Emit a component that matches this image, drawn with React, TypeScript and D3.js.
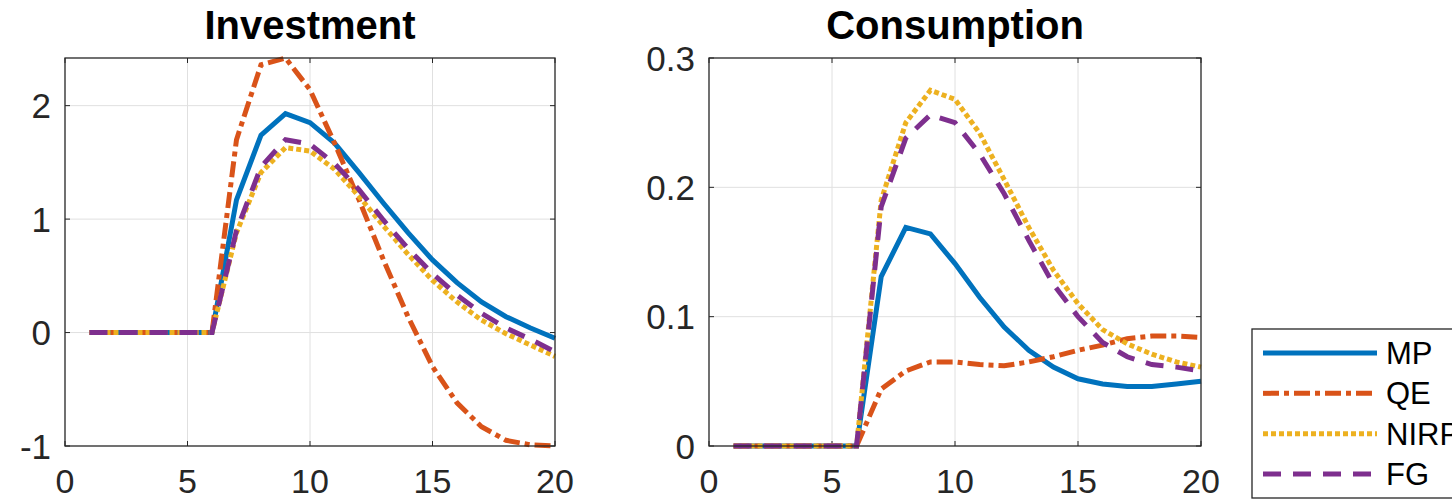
import React, { useRef, useEffect } from 'react';
import * as d3 from 'd3';

// horizon (quarters)
const periods = [1, 2, 3, 4, 5, 6, 7, 8, 9, 10, 11, 12, 13, 14, 15, 16, 17, 18, 19, 20];

// Investment responses
const invMP = [0, 0, 0, 0, 0, 0, 1.17, 1.74, 1.93, 1.85, 1.67, 1.41, 1.14, 0.88, 0.64, 0.44, 0.27, 0.14, 0.04, -0.05];
const invQE = [0, 0, 0, 0, 0, 0, 1.7, 2.36, 2.42, 2.14, 1.67, 1.17, 0.64, 0.14, -0.3, -0.62, -0.83, -0.95, -0.99, -1.0];
const invNIRP = [0, 0, 0, 0, 0, 0, 0.88, 1.41, 1.63, 1.6, 1.44, 1.2, 0.94, 0.69, 0.46, 0.27, 0.11, -0.01, -0.11, -0.21];
const invFG = [0, 0, 0, 0, 0, 0, 0.9, 1.46, 1.7, 1.66, 1.49, 1.26, 0.99, 0.74, 0.52, 0.33, 0.17, 0.04, -0.06, -0.17];

// Consumption responses
const conMP = [0, 0, 0, 0, 0, 0, 0.131, 0.169, 0.164, 0.141, 0.115, 0.092, 0.074, 0.061, 0.052, 0.048, 0.046, 0.046, 0.048, 0.05];
const conQE = [0, 0, 0, 0, 0, 0, 0.044, 0.058, 0.065, 0.065, 0.063, 0.062, 0.065, 0.069, 0.074, 0.078, 0.083, 0.085, 0.085, 0.084];
const conNIRP = [0, 0, 0, 0, 0, 0, 0.19, 0.25, 0.275, 0.268, 0.242, 0.206, 0.169, 0.136, 0.11, 0.09, 0.079, 0.071, 0.065, 0.061];
const conFG = [0, 0, 0, 0, 0, 0, 0.185, 0.238, 0.256, 0.25, 0.226, 0.195, 0.159, 0.125, 0.1, 0.08, 0.069, 0.063, 0.061, 0.058];

const seriesNames = ['MP', 'QE', 'NIRP', 'FG'];
const xTicks = [0, 5, 10, 15, 20];
const invTicks = [-1, 0, 1, 2];
const invTickLabels = ['-1', '0', '1', '2'];
const conTicks = [0, 0.1, 0.2, 0.3];
const conTickLabels = ['0', '0.1', '0.2', '0.3'];

const colors = ['#0072BD', '#D95319', '#EDB120', '#7E2F8E'];
const dashes = ['none', '16 5 5 5', '5 3', '18 12'];
const axisColor = '#262626';
const font = '"Liberation Sans", Arial, sans-serif';

const App = () => {
    const svgRef = useRef<SVGSVGElement>(null);

    useEffect(() => {
        const svg = d3.select(svgRef.current);
        svg.selectAll('*').remove();

        const panels = [
            { title: 'Investment', left: 65, right: 555, yDomain: [-1, 2.42], ticks: invTicks, labels: invTickLabels, data: [invMP, invQE, invNIRP, invFG] },
            { title: 'Consumption', left: 709, right: 1201, yDomain: [0, 0.3], ticks: conTicks, labels: conTickLabels, data: [conMP, conQE, conNIRP, conFG] },
        ];
        const top = 58, bottom = 446;

        panels.forEach(p => {
            const x = d3.scaleLinear().domain([0, 20]).range([p.left, p.right]);
            const y = d3.scaleLinear().domain(p.yDomain).range([bottom, top]);
            const g = svg.append('g');

            // grid
            g.selectAll('.gx').data(xTicks.slice(1, -1)).join('line')
                .attr('x1', d => x(d)).attr('x2', d => x(d))
                .attr('y1', top).attr('y2', bottom)
                .attr('stroke', '#e0e0e0').attr('stroke-width', 1);
            g.selectAll('.gy').data(p.ticks.filter(t => y(t) > top + 1 && y(t) < bottom - 1)).join('line')
                .attr('x1', p.left).attr('x2', p.right)
                .attr('y1', d => y(d)).attr('y2', d => y(d))
                .attr('stroke', '#e0e0e0').attr('stroke-width', 1);

            // inward ticks on all sides
            const tl = 5;
            xTicks.forEach(t => {
                g.append('line').attr('x1', x(t)).attr('x2', x(t)).attr('y1', bottom).attr('y2', bottom - tl).attr('stroke', axisColor);
                g.append('line').attr('x1', x(t)).attr('x2', x(t)).attr('y1', top).attr('y2', top + tl).attr('stroke', axisColor);
            });
            p.ticks.forEach(t => {
                g.append('line').attr('x1', p.left).attr('x2', p.left + tl).attr('y1', y(t)).attr('y2', y(t)).attr('stroke', axisColor);
                g.append('line').attr('x1', p.right).attr('x2', p.right - tl).attr('y1', y(t)).attr('y2', y(t)).attr('stroke', axisColor);
            });

            // lines
            const line = d3.line<number>()
                .x((_, i) => x(periods[i]))
                .y(d => y(d));
            p.data.forEach((vals, i) => {
                g.append('path')
                    .datum(vals)
                    .attr('d', line)
                    .attr('fill', 'none')
                    .attr('stroke', colors[i])
                    .attr('stroke-width', 5)
                    .attr('stroke-dasharray', dashes[i]);
            });

            // box
            g.append('rect')
                .attr('x', p.left).attr('y', top)
                .attr('width', p.right - p.left).attr('height', bottom - top)
                .attr('fill', 'none').attr('stroke', axisColor).attr('stroke-width', 1.3);

            // tick labels
            g.selectAll('.xl').data(xTicks).join('text')
                .attr('x', d => x(d)).attr('y', 493)
                .attr('text-anchor', 'middle')
                .attr('font-family', font).attr('font-size', 34)
                .attr('fill', axisColor)
                .text(d => d);
            g.selectAll('.yl').data(p.ticks).join('text')
                .attr('x', p.left - 14).attr('y', d => y(d))
                .attr('dy', '0.36em')
                .attr('text-anchor', 'end')
                .attr('font-family', font).attr('font-size', 35)
                .attr('fill', axisColor)
                .text((_, i) => p.labels[i]);

            // title
            g.append('text')
                .attr('x', (p.left + p.right) / 2).attr('y', 39)
                .attr('text-anchor', 'middle')
                .attr('font-family', font).attr('font-size', 40).attr('font-weight', 'bold')
                .attr('fill', '#000')
                .text(p.title);
        });

        // legend
        const lg = svg.append('g');
        lg.append('rect')
            .attr('x', 1252).attr('y', 329).attr('width', 240).attr('height', 169)
            .attr('fill', '#fff').attr('stroke', axisColor).attr('stroke-width', 1.3);
        const ly = d3.scalePoint<string>().domain(seriesNames).range([353, 474]);
        seriesNames.forEach((name, i) => {
            lg.append('line')
                .attr('x1', 1263).attr('x2', 1377)
                .attr('y1', ly(name)!).attr('y2', ly(name)!)
                .attr('stroke', colors[i]).attr('stroke-width', 5)
                .attr('stroke-dasharray', dashes[i]);
            lg.append('text')
                .attr('x', 1386).attr('y', ly(name)!)
                .attr('dy', '0.36em')
                .attr('font-family', font).attr('font-size', 31)
                .attr('fill', '#000')
                .text(name);
        });
    }, []);

    return (
        <svg
            ref={svgRef}
            width={1452}
            height={501}
            style={{ position: 'absolute', left: 0, top: 0, background: '#fff' }}
        />
    );
};

export default App;
